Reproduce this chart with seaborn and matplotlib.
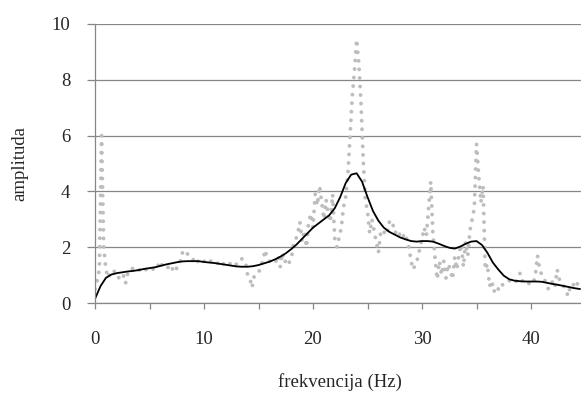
import numpy as np
import pandas as pd
import matplotlib
matplotlib.use("Agg")
import matplotlib.pyplot as plt
from matplotlib.ticker import MultipleLocator
import seaborn as sns

# raw spectrum, 0.2 Hz bins starting at 0 Hz (one row per Hz)
freq_step = 0.2
raw_amp = [
    0.5, 0.8, 1.2, 6.0, 2.0,      # 0
    1.2, 0.9, 1.1, 1.05, 1.15,    # 1
    1.0, 0.9, 0.85, 1.0, 0.7,     # 2
    1.05, 1.2, 1.25, 1.15, 1.2,   # 3
    1.2, 1.15, 1.25, 1.2, 1.2,    # 4
    1.2, 1.15, 1.25, 1.2, 1.35,   # 5
    1.5, 1.3, 1.35, 1.3, 1.25,    # 6
    1.35, 1.1, 1.2, 1.3, 1.45,    # 7
    1.8, 1.75, 1.85, 1.65, 1.6,   # 8
    1.55, 1.65, 1.5, 1.45, 1.55,  # 9
    1.5, 1.45, 1.4, 1.5, 1.45,    # 10
    1.4, 1.45, 1.35, 1.45, 1.4,   # 11
    1.45, 1.5, 1.4, 1.45, 1.35,   # 12
    1.4, 1.5, 1.6, 1.55, 1.5,     # 13
    1.0, 0.9, 0.55, 0.95, 1.0,    # 14
    1.05, 1.35, 1.5, 1.9, 1.6,    # 15
    1.5, 1.45, 1.4, 1.5, 1.7,     # 16
    1.3, 1.8, 1.45, 1.6, 1.45,    # 17
    1.55, 2.1, 2.25, 2.5, 2.9,    # 18
    2.2, 2.6, 2.0, 2.9, 3.2,      # 19
    2.7, 3.9, 3.5, 4.2, 3.6,      # 20
    3.0, 3.7, 3.2, 2.9, 3.9,      # 21
    2.3, 2.0, 2.35, 2.7, 3.45,    # 22
    3.8, 4.6, 6.0, 7.4, 8.3,      # 23
    9.45, 8.6, 7.2, 5.2, 3.7,     # 24
    3.3, 2.5, 3.0, 2.6, 2.2,      # 25
    1.8, 2.5, 2.4, 2.6, 2.5,      # 26
    2.9, 2.7, 2.8, 2.5, 2.6,      # 27
    2.4, 2.3, 2.5, 2.3, 2.0,      # 28
    1.5, 1.2, 1.4, 1.6, 1.95,     # 29
    2.3, 2.7, 2.4, 3.4, 4.35,     # 30
    2.5, 1.6, 0.85, 1.5, 1.0,     # 31
    1.5, 0.9, 1.4, 1.2, 0.85,     # 32
    1.65, 1.2, 1.8, 2.1, 1.3,     # 33
    2.2, 1.7, 2.6, 3.0, 3.4,      # 34
    5.7, 4.6, 3.6, 4.2, 1.2,      # 35
    1.4, 0.6, 0.8, 0.4, 0.6,      # 36
    0.5, 0.7, 0.65, 0.75, 0.75,   # 37
    0.8, 0.75, 0.8, 0.75, 0.9,    # 38
    1.07, 0.8, 0.75, 0.8, 0.7,    # 39
    0.75, 0.7, 1.0, 1.7, 1.2,     # 40
    1.0, 0.9, 0.65, 0.5, 0.6,     # 41
    0.8, 0.6, 1.2, 0.85, 0.7,     # 42
    0.6, 0.45, 0.25, 0.6, 0.7,    # 43
    0.6, 0.75, 0.5, 0.55,         # 44
]
raw_freq = np.arange(len(raw_amp)) * freq_step

# smoothed curve, 0.5 Hz steps
smooth_step = 0.5
smooth_amp = [
    0.15, 0.6, 0.9, 1.02, 1.07, 1.1, 1.13, 1.15, 1.18, 1.22,
    1.25, 1.28, 1.33, 1.38, 1.42, 1.46, 1.49, 1.5, 1.5, 1.5,
    1.47, 1.45, 1.43, 1.4, 1.37, 1.34, 1.31, 1.3, 1.3, 1.32,
    1.36, 1.42, 1.48, 1.56, 1.66, 1.78, 1.93, 2.1, 2.3, 2.5,
    2.7, 2.85, 3.0, 3.15, 3.4, 3.8, 4.3, 4.6, 4.65, 4.35,
    3.8, 3.3, 2.95, 2.7, 2.55, 2.45, 2.35, 2.28, 2.22, 2.2,
    2.22, 2.22, 2.2, 2.13, 2.05, 1.98, 1.95, 2.02, 2.12, 2.2,
    2.22, 2.08, 1.8, 1.45, 1.2, 0.98, 0.85, 0.8, 0.78, 0.77,
    0.77, 0.77, 0.76, 0.72, 0.68, 0.65, 0.61, 0.57, 0.53, 0.5,
]
smooth_freq = np.arange(len(smooth_amp)) * smooth_step

df_raw = pd.DataFrame({"freq": raw_freq, "amp": raw_amp})
df_smooth = pd.DataFrame({"freq": smooth_freq, "amp": smooth_amp})

sns.set_style("white")
plt.rcParams["font.family"] = ["Liberation Serif", "DejaVu Serif"]

grid_col = "#878787"
fig = plt.figure(figsize=(5.81, 3.99), dpi=100)
ax = fig.add_axes([95 / 581, 96 / 399, 490.5 / 581, 279 / 399])

# gray series: line drawn with round dots
sns.lineplot(data=df_raw, x="freq", y="amp", ax=ax, color="#bdbdbd",
             linewidth=2.8, linestyle=(0, (0.001, 2.2)),
             dash_capstyle="round", estimator=None, sort=False)
sns.lineplot(data=df_smooth, x="freq", y="amp", ax=ax, color="black",
             linewidth=1.3, estimator=None, sort=False)

ax.set_xlim(0, 45)
ax.set_ylim(0, 10)
ax.xaxis.set_major_locator(MultipleLocator(10))
ax.xaxis.set_minor_locator(MultipleLocator(5))
ax.yaxis.set_major_locator(MultipleLocator(2))
ax.grid(axis="y", color=grid_col, linewidth=0.9)
ax.set_axisbelow(True)

for s in ["top", "right"]:
    ax.spines[s].set_visible(False)
for s in ["left", "bottom"]:
    ax.spines[s].set_color(grid_col)
    ax.spines[s].set_linewidth(0.9)

ax.tick_params(axis="x", which="both", direction="out", length=4.5,
               width=0.9, color=grid_col, pad=16, labelsize=13.5,
               bottom=True)
ax.tick_params(axis="y", direction="out", length=5.8, width=0.9,
               color=grid_col, pad=12, labelsize=13.5, left=True)

ax.set_xlabel("frekvencija (Hz)", fontsize=13.5, labelpad=18)
ax.set_ylabel("amplituda", fontsize=13.5, labelpad=17)

fig.savefig("out.png", dpi=100)
